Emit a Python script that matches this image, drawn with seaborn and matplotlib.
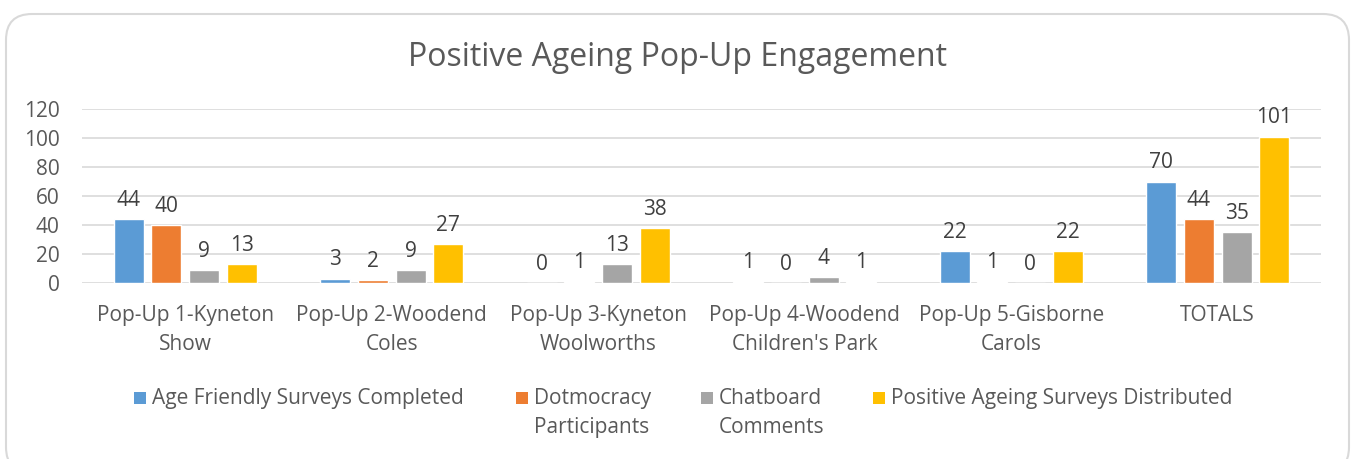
import pandas as pd
import matplotlib.pyplot as plt
import seaborn as sns
from matplotlib.patches import FancyBboxPatch, Rectangle
from matplotlib.transforms import IdentityTransform

# data
events = ["Pop-Up 1-Kyneton\nShow", "Pop-Up 2-Woodend\nColes", "Pop-Up 3-Kyneton\nWoolworths",
          "Pop-Up 4-Woodend\nChildren's Park", "Pop-Up 5-Gisborne\nCarols", "TOTALS"]
series = ["Age Friendly Surveys Completed", "Dotmocracy\nParticipants",
          "Chatboard\nComments", "Positive Ageing Surveys Distributed"]
age_friendly = [44, 3, 0, 1, 22, 70]
dotmocracy = [40, 2, 1, 0, 1, 44]
chatboard = [9, 9, 13, 4, 0, 35]
positive_ageing = [13, 27, 38, 1, 22, 101]
colors = ["#5B9BD5", "#ED7D31", "#A5A5A5", "#FFC000"]

rows = []
for name, vals in zip(series, [age_friendly, dotmocracy, chatboard, positive_ageing]):
    for ev, v in zip(events, vals):
        rows.append({"event": ev, "series": name, "value": v})
df = pd.DataFrame(rows)

sns.set_style("white")
plt.rcParams['font.family'] = ['Open Sans', 'DejaVu Sans']
txt = "#595959"
W, H = 1356, 459

fig = plt.figure(figsize=(W / 100, H / 100), dpi=100)
ax = fig.add_axes([82 / W, 1 - 283 / H, (1321 - 82) / W, (283 - 109) / H])

sns.barplot(data=df, x="event", y="value", hue="series", palette=colors,
            width=0.73, gap=0.2, saturation=1, ax=ax, legend=False)

for c in ax.containers:
    ax.bar_label(c, fmt="%d", padding=6, fontsize=15, color="#404040")

ax.set_ylim(0, 120)
ax.set_yticks(range(0, 121, 20))
ax.yaxis.grid(True, color="#D9D9D9", linewidth=1.2)
ax.set_axisbelow(True)
sns.despine(ax=ax, left=True, bottom=True, top=True, right=True)
ax.tick_params(axis="both", length=0, labelsize=15, labelcolor=txt)
ax.tick_params(axis="y", pad=16)
ax.tick_params(axis="x", pad=16)
for lab in ax.get_xticklabels():
    lab.set_linespacing(1.5)
ax.set_xlabel("")
ax.set_ylabel("")

# legend drawn by hand so the swatch lines up with the first text line
leg_x = [134, 516, 701, 873]
for x0, name, col in zip(leg_x, series, colors):
    fig.patches.append(Rectangle((x0 / W, 1 - 404 / H), 12 / W, 12 / H,
                                 transform=fig.transFigure, facecolor=col, edgecolor="none"))
    fig.text((x0 + 18) / W, 1 - 388 / H, name, ha="left", va="top", fontsize=15,
             color=txt, linespacing=1.5)

fig.text(0.5, 1 - 57 / H, "Positive Ageing Pop-Up Engagement", ha="center", va="center",
         fontsize=23, color=txt)

border = FancyBboxPatch((6, -14), 1343, H + 4 - 14 - 10 + 20,
                        boxstyle="round,pad=0,rounding_size=26",
                        transform=IdentityTransform(), fill=False,
                        edgecolor="#D9D9D9", linewidth=1.5)
fig.patches.append(border)

fig.savefig("out.png", dpi=100)
